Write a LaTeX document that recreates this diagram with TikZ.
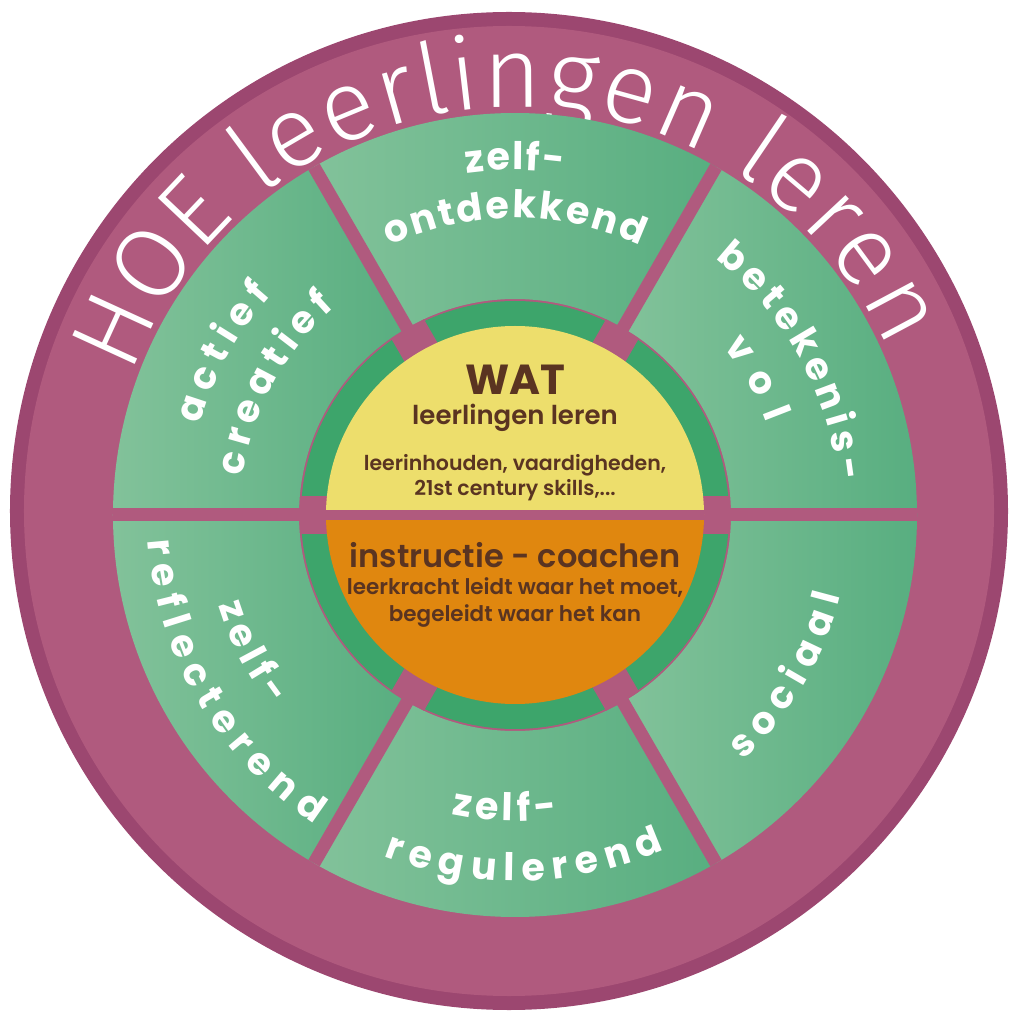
\documentclass[tikz,border=0pt]{standalone}
\usepackage{fontspec}
\setmainfont{Poppins}[FontFace={sb}{n}{Font=* SemiBold}]
\newfontfamily\titlefont{Fira Sans Light}
\usetikzlibrary{decorations.text}

\definecolor{ringpurple}{HTML}{B05A7E}
\definecolor{rimpurple}{HTML}{9C4770}
\definecolor{seglight}{HTML}{82C29A}
\definecolor{segdark}{HTML}{58AE80}
\definecolor{ringgreen}{HTML}{3DA56B}
\definecolor{watyellow}{HTML}{EDDE6C}
\definecolor{howorange}{HTML}{E0870F}
\definecolor{inkbrown}{HTML}{5A3421}

\newcommand{\sbw}{\fontseries{sb}\selectfont}
\newcommand{\segfont}{\fontsize{38}{38}\selectfont\bfseries\color{white}}
\newcommand{\titlefnt}{\fontsize{100}{100}\selectfont\titlefont\color{white}}
% text on an arc: radius, start angle, end angle, text
\newcommand{\arctext}[4]{%
  \path[decorate, decoration={text along path, text align={fit to path},
    text={|\segfont|#4}}] (#2:#1) arc[start angle=#2, end angle=#3, radius=#1];}

\begin{document}
\begin{tikzpicture}[x=1pt, y=1pt,
  gap/.style={ringpurple, line width=13pt},
  block/.style={ringpurple, line width=38pt},
  midtext/.style={text=inkbrown, align=center, inner sep=0pt}]
\useasboundingbox (-515,-504) rectangle (499,515);

% outer ring
\fill[rimpurple] (-6,4) circle (499);
\fill[ringpurple] (-6,4) circle (485);

% title
\path[decorate, decoration={text along path, text align={fit to path},
  text={|\titlefnt|HOE leerlingen leren}}]
  (160:408) arc[start angle=160, end angle=24, radius=408];

% segments
\foreach \a in {0,60,...,300}
  \shade[left color=seglight, right color=segdark]
    (\a:216) arc[start angle=\a, end angle=\a+60, radius=216]
    -- ({\a+60}:402) arc[start angle=\a+60, end angle=\a, radius=402] -- cycle;
\fill[ringgreen] (0,0) circle (214);

% separators
\foreach \a in {0,60,120}
  \draw[gap] (\a:402) -- ({\a+180}:402);
\foreach \a in {0,60,...,300}
  \draw[block] (\a:187) -- (\a:215);

% centre
\fill[watyellow] (0:189) arc[start angle=0, end angle=180, radius=189] -- cycle;
\fill[howorange] (180:189) arc[start angle=180, end angle=360, radius=189] -- cycle;
\draw[gap, line width=10pt] (180:189) -- (0:189);

\node[midtext, font=\fontsize{42}{42}\selectfont\bfseries] (wat) at (0,135) {WAT};
\node[midtext, font=\fontsize{26}{26}\selectfont\sbw] (watsub) at (0,97) {leerlingen leren};
\node[midtext, font=\fontsize{20.5}{25}\selectfont\sbw] (watlist) at (0,37)
  {leerinhouden, vaardigheden,\\21st century skills,...};
\node[midtext, font=\fontsize{32}{32}\selectfont\sbw] (how) at (0,-40) {instructie - coachen};
\node[midtext, font=\fontsize{21.5}{27}\selectfont\sbw] (howsub) at (0,-88)
  {leerkracht leidt waar het moet,\\begeleidt waar het kan};

% segment labels
\arctext{345}{98}{82}{zelf-}
\arctext{297}{115}{65}{ontdekkend}
\arctext{328}{164}{138}{actief}
\arctext{275}{172}{131}{creatief}
\arctext{325}{52}{6}{betekenis-}
\arctext{268}{39}{20}{vol}
\arctext{335}{-47}{-14}{sociaal}
\arctext{306}{258}{278}{zelf-}
\arctext{366}{249}{294}{regulerend}
\arctext{310}{197}{218}{zelf-}
\arctext{368}{184}{237}{reflecterend}
\end{tikzpicture}
\end{document}
